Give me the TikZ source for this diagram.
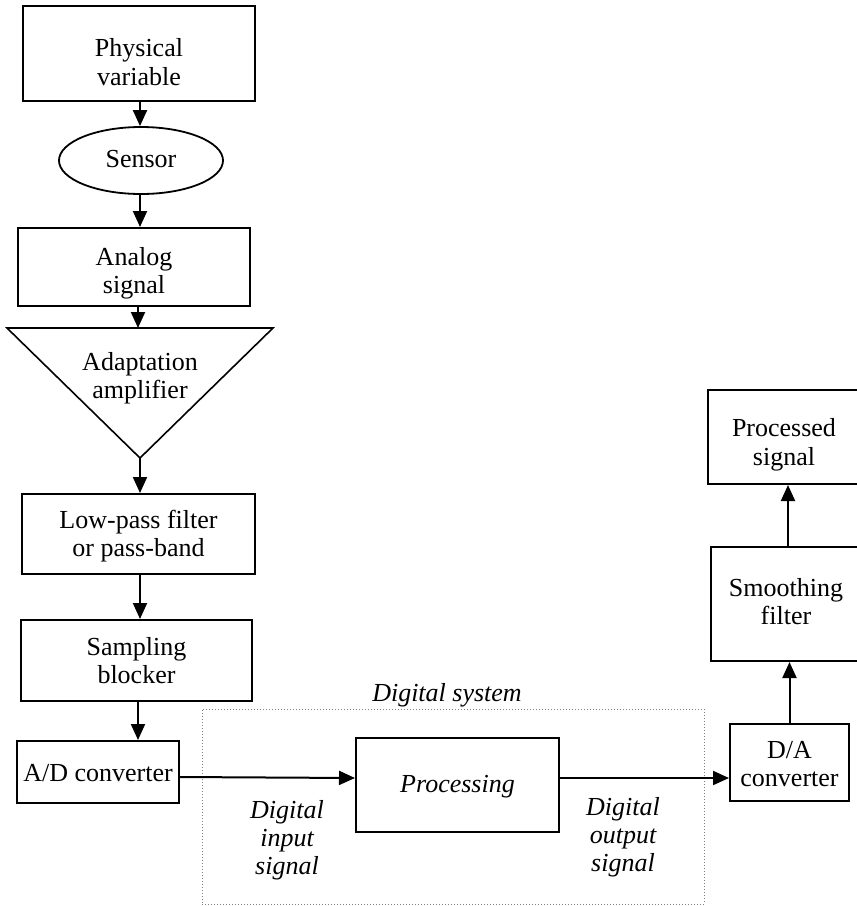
\documentclass[tikz,border=0pt]{standalone}
\usepackage{fontspec}
\setmainfont{Liberation Serif}
\usetikzlibrary{arrows.meta,shapes.geometric}
\newcommand\mlines[1]{\begin{tabular}[t]{@{}c@{}}#1\end{tabular}}
\begin{document}
\begin{tikzpicture}[x=1pt,y=-1pt,
  font=\fontsize{26}{28.3}\selectfont,
  box/.style={draw,line width=2pt,inner sep=0pt,text height=25pt},
  oval/.style={draw,ellipse,line width=1.8pt,inner sep=0pt,text height=25pt},
  arr/.style={line width=2pt,-{Triangle[length=16pt,width=14pt]}},
  lbl/.style={anchor=base,inner sep=0pt,font=\fontsize{26}{28.3}\selectfont\itshape}]
\useasboundingbox (0,0) rectangle (857,906);
\clip (0,0) rectangle (857,906);
% left column
\node[box,minimum width=232pt,minimum height=95pt,text depth=18.6pt] (phys) at (139,53.5) {\mlines{Physical\\variable}};
\node[oval,minimum width=164pt,minimum height=67pt,text depth=12pt] (sensor) at (141,160.5) {Sensor};
\node[box,minimum width=232pt,minimum height=78pt,text depth=29pt] (analog) at (134,267) {\mlines{Analog\\signal}};
\coordinate (tl) at (7,328);
\coordinate (tr) at (273,328);
\coordinate (apex) at (140,458);
\coordinate (ttop) at (138,328);
\draw[line width=1.6pt,line join=miter] (tl) -- (tr) -- (apex) -- cycle;
\node[anchor=base,inner sep=0pt] (amp) at (140,370) {\mlines{Adaptation\\amplifier}};
\node[box,minimum width=233pt,minimum height=80pt,text depth=37pt] (lowpass) at (138.5,534) {\mlines{Low-pass filter\\or pass-band}};
\node[box,minimum width=231pt,minimum height=81pt,text depth=36pt] (sampling) at (136.5,660.5) {\mlines{Sampling\\blocker}};
\node[box,minimum width=162pt,minimum height=62pt,text depth=5.6pt] (ad) at (98,772) {A/D converter};
% digital system
\node[draw,gray,dotted,line width=1pt,minimum width=502pt,minimum height=195pt,inner sep=0pt] (dsys) at (453,806.5) {};
\node[lbl] (dsyslbl) at (447,701.7) {Digital system};
\node[box,minimum width=203pt,minimum height=94pt,text depth=9.6pt,font=\fontsize{26}{28.3}\selectfont\itshape] (proc) at (457.5,785) {Processing};
\node[lbl] (din) at (287,818) {\mlines{Digital\\input\\signal}};
\node[lbl] (dout) at (623,815) {\mlines{Digital\\output\\signal}};
% right column
\node[box,minimum width=119pt,minimum height=77pt,text depth=34pt] (da) at (789.5,762.5) {\mlines{D/A\\converter}};
\node[box,minimum width=150pt,minimum height=114pt,text depth=41pt] (smooth) at (786,604) {\mlines{Smoothing\\filter}};
\node[box,minimum width=152pt,minimum height=94pt,text depth=25.6pt] (procsig) at (784,437) {\mlines{Processed\\signal}};
% connectors
\draw[arr] ([xshift=1pt]phys.south) -- ([xshift=1pt]phys.south |- sensor.north);
\draw[arr] ([xshift=-1pt]sensor.south) -- ([xshift=-1pt]sensor.south |- analog.north);
\draw[arr] (analog.south -| ttop) -- (ttop);
\draw[arr] (apex) -- (apex |- lowpass.north);
\draw[arr] ([xshift=1.5pt]lowpass.south) -- ([xshift=1.5pt]lowpass.south |- sampling.north);
\draw[arr] ([xshift=1.5pt]sampling.south) -- ([xshift=1.5pt]sampling.south |- ad.north);
\draw[arr] ([yshift=-5pt]ad.east) -- ([yshift=7pt]proc.west);
\draw[arr] ([yshift=7pt]proc.east) -- ([yshift=-15.5pt]da.west);
\draw[arr] (da.north) -- (da.north |- smooth.south);
\draw[arr] ([xshift=2pt]smooth.north) -- ([xshift=2pt]smooth.north |- procsig.south);
\end{tikzpicture}
\end{document}
